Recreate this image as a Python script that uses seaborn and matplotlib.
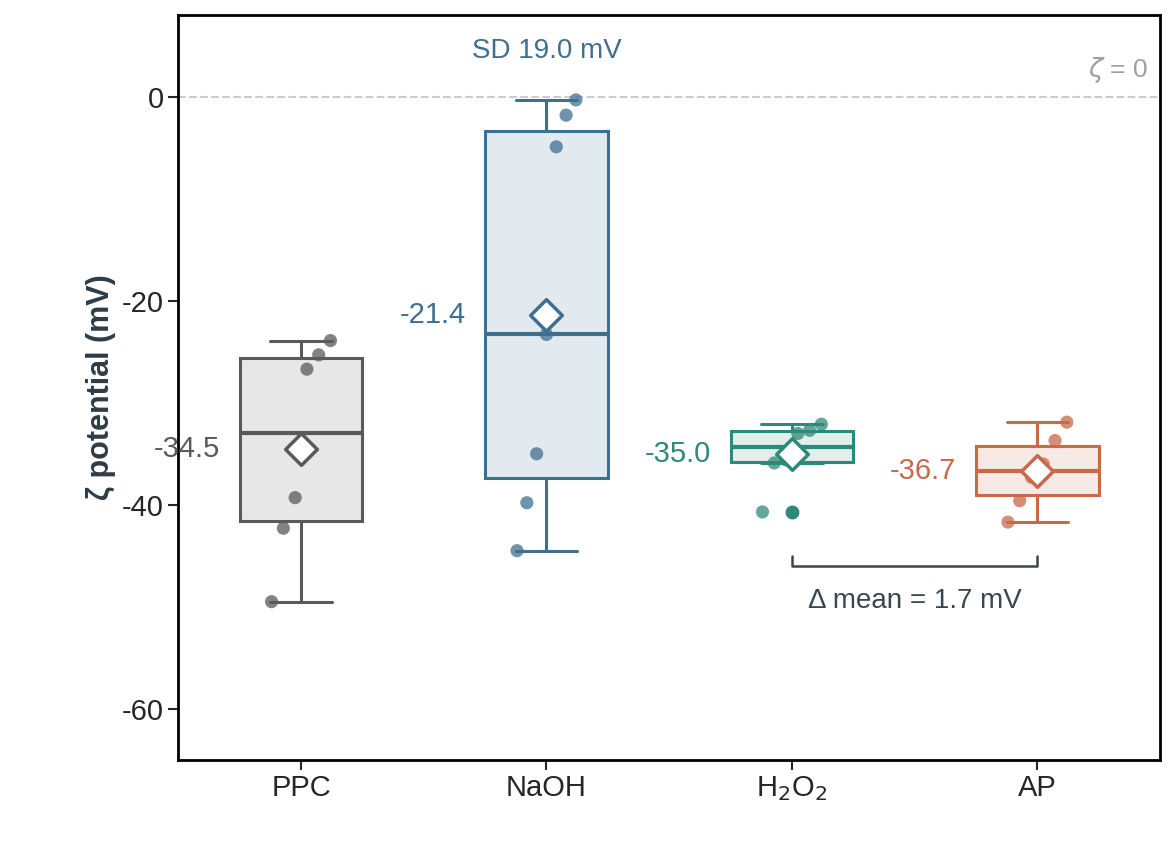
import numpy as np
import pandas as pd
import seaborn as sns
import matplotlib.pyplot as plt
from matplotlib.colors import to_rgb

# ---------------- datos ----------------
grupos = ['PPC', 'NaOH', 'H2O2', 'AP']
etiquetas = ['PPC', 'NaOH', 'H$_2$O$_2$', 'AP']
ppc = [-23.9, -25.3, -26.7, -39.3, -42.3, -49.5]
naoh = [-0.3, -1.8, -4.9, -23.3, -35.0, -39.8, -44.5]
h2o2 = [-32.1, -32.7, -33.0, -35.6, -35.9, -40.7]
ap = [-31.9, -33.7, -36.0, -37.3, -39.6, -41.7]
valores = [ppc, naoh, h2o2, ap]
colores = ['#5a5a5a', '#3f6f8f', '#2e8a78', '#c8694a']

df = pd.DataFrame({'Grupo': np.repeat(grupos, [len(v) for v in valores]),
                   'Zeta': np.concatenate(valores)})

sns.set_theme(style='ticks')
plt.rcParams['font.family'] = ['Liberation Sans', 'DejaVu Sans']
plt.rcParams['axes.unicode_minus'] = False
fig, ax = plt.subplots(figsize=(11.73, 8.47), dpi=100)
fig.subplots_adjust(left=0.152, right=0.989, top=0.982, bottom=0.103)

ax.axhline(0, color='#c8cdd2', ls='--', lw=1.5, zorder=0)

for i, (g, c) in enumerate(zip(grupos, colores)):
    sub = df[df['Grupo'] == g]
    r, gg, b = to_rgb(c)
    sns.boxplot(data=sub, x='Grupo', y='Zeta', order=grupos, ax=ax, width=0.5,
                color=c, linecolor=c, linewidth=2.2, showfliers=(g == 'H2O2'),
                boxprops=dict(facecolor=(r, gg, b, 0.14), edgecolor=c),
                flierprops=dict(marker='o', markerfacecolor=c, markeredgecolor=c,
                                markersize=9),
                medianprops=dict(color=c, linewidth=3), whis=1.5)

for i, (v, c) in enumerate(zip(valores, colores)):
    vs = sorted(v, reverse=True)
    off = np.linspace(0.12, -0.12, len(vs))
    sns.scatterplot(x=i + off, y=vs, ax=ax, color=c, s=90, alpha=0.75,
                    edgecolor='none', zorder=4, legend=False)
    m = np.mean(v)
    ax.scatter(i, m, marker='D', s=260, facecolor='white', edgecolor=c,
               linewidth=2.5, zorder=5)
    ax.text(i - 0.33, m, f'{m:.1f}', color=c, fontsize=21,
            ha='right', va='center')

ax.text(1, 4.5, f'SD {np.std(naoh, ddof=1):.1f} mV', color=colores[1],
        fontsize=20, ha='center', va='center')
ax.text(3.45, 1.2, r'$\zeta$ = 0', color='#a0a0a0', fontsize=19,
        ha='right', va='bottom')

# corchete de diferencia
ax.plot([2, 2, 3, 3], [-45.0, -46.0, -46.0, -45.0], color='#3a4750', lw=1.8)
d = np.mean(h2o2) - np.mean(ap)
ax.text(2.5, -49.4, f'Δ mean = {abs(d):.1f} mV', color='#3a4750',
        fontsize=20, ha='center', va='center')

ax.set_xlim(-0.5, 3.5)
ax.set_ylim(-65, 8)
ax.set_yticks([0, -20, -40, -60])
ax.set_xticks(range(4))
ax.set_xticklabels(etiquetas, fontsize=21)
ax.tick_params(axis='y', labelsize=21, length=7, width=1.5)
ax.tick_params(axis='x', length=7, width=1.5)
ax.set_xlabel('')
ax.set_ylabel('ζ potential (mV)', fontsize=22, fontweight='bold',
              color='#2f3b45')
for s in ax.spines.values():
    s.set_linewidth(2)
    s.set_color('black')
fig.savefig('out.png', dpi=100)
